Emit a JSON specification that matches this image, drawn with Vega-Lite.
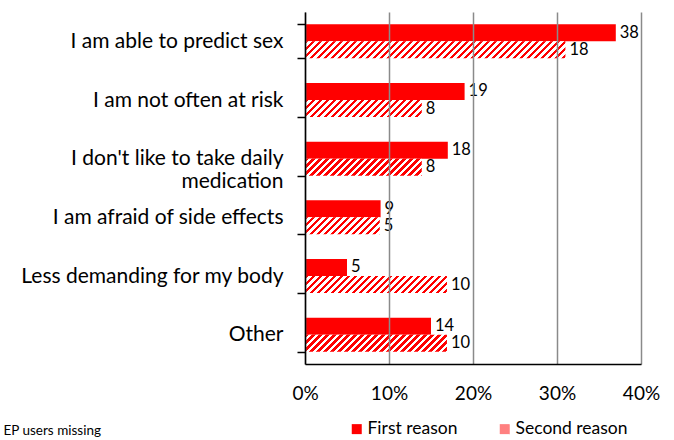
{
  "$schema": "https://vega.github.io/schema/vega-lite/v6.json",
  "autosize": "none",
  "width": 336,
  "height": 352,
  "padding": {"left": 305, "top": 12, "right": 33, "bottom": 76},
  "background": "white",
  "config": {"view": {"stroke": null}},
  "data": {"values": [
    {"cat": "I am able to predict sex", "reason": "First reason", "pct": 37, "n": 38},
    {"cat": "I am able to predict sex", "reason": "Second reason", "pct": 31, "n": 18},
    {"cat": "I am not often at risk", "reason": "First reason", "pct": 19, "n": 19},
    {"cat": "I am not often at risk", "reason": "Second reason", "pct": 13.9, "n": 8},
    {"cat": "I don't like to take daily|medication", "reason": "First reason", "pct": 17, "n": 18},
    {"cat": "I don't like to take daily|medication", "reason": "Second reason", "pct": 13.9, "n": 8},
    {"cat": "I am afraid of side effects", "reason": "First reason", "pct": 9, "n": 9},
    {"cat": "I am afraid of side effects", "reason": "Second reason", "pct": 8.9, "n": 5},
    {"cat": "Less demanding for my body", "reason": "First reason", "pct": 5, "n": 5},
    {"cat": "Less demanding for my body", "reason": "Second reason", "pct": 16.9, "n": 10},
    {"cat": "Other", "reason": "First reason", "pct": 15, "n": 14},
    {"cat": "Other", "reason": "Second reason", "pct": 16.9, "n": 10}
  ]},
  "encoding": {
    "y": {"field": "cat", "type": "nominal", "sort": null,
      "scale": {"paddingInner": 0.42, "paddingOuter": 0.21},
      "axis": {"title": null, "tickBand": "extent", "ticks": true, "tickSize": 8, "tickColor": "#000", "tickWidth": 1.5,
        "domainColor": "#000", "domainWidth": 1.5, "labelFont": "Lato", "labelFontSize": 21, "labelColor": "#000",
        "labelPadding": 14, "labelLimit": 0, "labelLineHeight": 23, "labelExpr": "split(datum.label, '|')", "grid": false, "zindex": 2}},
    "yOffset": {"field": "reason", "type": "nominal"},
    "x": {"field": "pct", "type": "quantitative",
      "scale": {"domain": [0, 40], "nice": false},
      "axis": {"values": [0, 10, 20, 30, 40], "labelExpr": "datum.value + '%'", "grid": true, "gridColor": "#8a8a8a", "gridWidth": 1.5,
        "ticks": false, "tickSize": 0, "domainColor": "#000", "domainWidth": 1.5, "labelFont": "Lato", "labelFontSize": 19,
        "labelColor": "#000", "labelPadding": 20, "labelFlush": false, "zindex": 1,
        "title": "EP users missing", "titleFont": "Lato", "titleFontSize": 13.5, "titleFontWeight": "normal", "titleColor": "#000",
        "titleX": -302, "titleY": 66, "titleAlign": "left", "titleAnchor": "start", "titleBaseline": "middle"}}
  },
  "layer": [
    {
      "mark": {"type": "bar"},
      "encoding": {
        "fill": {"field": "reason", "type": "nominal",
          "scale": {"domain": ["First reason", "Second reason"], "range": ["#ff0000", "#ff8080"]},
          "legend": {"orient": "none", "legendX": 43, "legendY": 408, "direction": "horizontal", "title": null,
            "symbolType": "square", "symbolSize": 100, "symbolStrokeWidth": 0, "labelFont": "Lato", "labelFontSize": 17.5,
            "labelColor": "#000", "columnPadding": 38, "labelOffset": 2, "padding": 0},
          "condition": [
            {"test": "datum.reason === 'Second reason' && datum.pct === 31", "value": {"gradient": "linear", "x1": 0, "y1": 0, "x2": 1.33837, "y2": 0.087441, "stops": [
{"offset":0,"color":"#f00"},
{"offset":0.01,"color":"#f00"},{"offset":0.01,"color":"#fff"},
{"offset":0.02,"color":"#fff"},{"offset":0.02,"color":"#f00"},
{"offset":0.03,"color":"#f00"},{"offset":0.03,"color":"#fff"},
{"offset":0.04,"color":"#fff"},{"offset":0.04,"color":"#f00"},
{"offset":0.05,"color":"#f00"},{"offset":0.05,"color":"#fff"},
{"offset":0.06,"color":"#fff"},{"offset":0.06,"color":"#f00"},
{"offset":0.07,"color":"#f00"},{"offset":0.07,"color":"#fff"},
{"offset":0.08,"color":"#fff"},{"offset":0.08,"color":"#f00"},
{"offset":0.09,"color":"#f00"},{"offset":0.09,"color":"#fff"},
{"offset":0.1,"color":"#fff"},{"offset":0.1,"color":"#f00"},
{"offset":0.11,"color":"#f00"},{"offset":0.11,"color":"#fff"},
{"offset":0.12,"color":"#fff"},{"offset":0.12,"color":"#f00"},
{"offset":0.13,"color":"#f00"},{"offset":0.13,"color":"#fff"},
{"offset":0.14,"color":"#fff"},{"offset":0.14,"color":"#f00"},
{"offset":0.15,"color":"#f00"},{"offset":0.15,"color":"#fff"},
{"offset":0.16,"color":"#fff"},{"offset":0.16,"color":"#f00"},
{"offset":0.17,"color":"#f00"},{"offset":0.17,"color":"#fff"},
{"offset":0.18,"color":"#fff"},{"offset":0.18,"color":"#f00"},
{"offset":0.19,"color":"#f00"},{"offset":0.19,"color":"#fff"},
{"offset":0.2,"color":"#fff"},{"offset":0.2,"color":"#f00"},
{"offset":0.21,"color":"#f00"},{"offset":0.21,"color":"#fff"},
{"offset":0.22,"color":"#fff"},{"offset":0.22,"color":"#f00"},
{"offset":0.23,"color":"#f00"},{"offset":0.23,"color":"#fff"},
{"offset":0.24,"color":"#fff"},{"offset":0.24,"color":"#f00"},
{"offset":0.25,"color":"#f00"},{"offset":0.25,"color":"#fff"},
{"offset":0.26,"color":"#fff"},{"offset":0.26,"color":"#f00"},
{"offset":0.27,"color":"#f00"},{"offset":0.27,"color":"#fff"},
{"offset":0.28,"color":"#fff"},{"offset":0.28,"color":"#f00"},
{"offset":0.29,"color":"#f00"},{"offset":0.29,"color":"#fff"},
{"offset":0.3,"color":"#fff"},{"offset":0.3,"color":"#f00"},
{"offset":0.31,"color":"#f00"},{"offset":0.31,"color":"#fff"},
{"offset":0.32,"color":"#fff"},{"offset":0.32,"color":"#f00"},
{"offset":0.33,"color":"#f00"},{"offset":0.33,"color":"#fff"},
{"offset":0.34,"color":"#fff"},{"offset":0.34,"color":"#f00"},
{"offset":0.35,"color":"#f00"},{"offset":0.35,"color":"#fff"},
{"offset":0.36,"color":"#fff"},{"offset":0.36,"color":"#f00"},
{"offset":0.37,"color":"#f00"},{"offset":0.37,"color":"#fff"},
{"offset":0.38,"color":"#fff"},{"offset":0.38,"color":"#f00"},
{"offset":0.39,"color":"#f00"},{"offset":0.39,"color":"#fff"},
{"offset":0.4,"color":"#fff"},{"offset":0.4,"color":"#f00"},
{"offset":0.41,"color":"#f00"},{"offset":0.41,"color":"#fff"},
{"offset":0.42,"color":"#fff"},{"offset":0.42,"color":"#f00"},
{"offset":0.43,"color":"#f00"},{"offset":0.43,"color":"#fff"},
{"offset":0.44,"color":"#fff"},{"offset":0.44,"color":"#f00"},
{"offset":0.45,"color":"#f00"},{"offset":0.45,"color":"#fff"},
{"offset":0.46,"color":"#fff"},{"offset":0.46,"color":"#f00"},
{"offset":0.47,"color":"#f00"},{"offset":0.47,"color":"#fff"},
{"offset":0.48,"color":"#fff"},{"offset":0.48,"color":"#f00"},
{"offset":0.49,"color":"#f00"},{"offset":0.49,"color":"#fff"},
{"offset":0.5,"color":"#fff"},{"offset":0.5,"color":"#f00"},
{"offset":0.51,"color":"#f00"},{"offset":0.51,"color":"#fff"},
{"offset":0.52,"color":"#fff"},{"offset":0.52,"color":"#f00"},
{"offset":0.53,"color":"#f00"},{"offset":0.53,"color":"#fff"},
{"offset":0.54,"color":"#fff"},{"offset":0.54,"color":"#f00"},
{"offset":0.55,"color":"#f00"},{"offset":0.55,"color":"#fff"},
{"offset":0.56,"color":"#fff"},{"offset":0.56,"color":"#f00"},
{"offset":0.57,"color":"#f00"},{"offset":0.57,"color":"#fff"},
{"offset":0.58,"color":"#fff"},{"offset":0.58,"color":"#f00"},
{"offset":0.59,"color":"#f00"},{"offset":0.59,"color":"#fff"},
{"offset":0.6,"color":"#fff"},{"offset":0.6,"color":"#f00"},
{"offset":0.61,"color":"#f00"},{"offset":0.61,"color":"#fff"},
{"offset":0.62,"color":"#fff"},{"offset":0.62,"color":"#f00"},
{"offset":0.63,"color":"#f00"},{"offset":0.63,"color":"#fff"},
{"offset":0.64,"color":"#fff"},{"offset":0.64,"color":"#f00"},
{"offset":0.65,"color":"#f00"},{"offset":0.65,"color":"#fff"},
{"offset":0.66,"color":"#fff"},{"offset":0.66,"color":"#f00"},
{"offset":0.67,"color":"#f00"},{"offset":0.67,"color":"#fff"},
{"offset":0.68,"color":"#fff"},{"offset":0.68,"color":"#f00"},
{"offset":0.69,"color":"#f00"},{"offset":0.69,"color":"#fff"},
{"offset":0.7,"color":"#fff"},{"offset":0.7,"color":"#f00"},
{"offset":0.71,"color":"#f00"},{"offset":0.71,"color":"#fff"},
{"offset":0.72,"color":"#fff"},{"offset":0.72,"color":"#f00"},
{"offset":0.73,"color":"#f00"},{"offset":0.73,"color":"#fff"},
{"offset":0.74,"color":"#fff"},{"offset":0.74,"color":"#f00"},
{"offset":0.75,"color":"#f00"},{"offset":0.75,"color":"#fff"},
{"offset":0.76,"color":"#fff"},{"offset":0.76,"color":"#f00"},
{"offset":0.77,"color":"#f00"},{"offset":0.77,"color":"#fff"},
{"offset":0.78,"color":"#fff"},{"offset":0.78,"color":"#f00"},
{"offset":0.79,"color":"#f00"},{"offset":0.79,"color":"#fff"},
{"offset":0.8,"color":"#fff"}]}},
            {"test": "datum.reason === 'Second reason' && datum.pct === 13.9", "value": {"gradient": "linear", "x1": 0, "y1": 0, "x2": 2.93529, "y2": 0.4277, "stops": [
{"offset":0,"color":"#f00"},
{"offset":0.01,"color":"#f00"},{"offset":0.01,"color":"#fff"},
{"offset":0.02,"color":"#fff"},{"offset":0.02,"color":"#f00"},
{"offset":0.03,"color":"#f00"},{"offset":0.03,"color":"#fff"},
{"offset":0.04,"color":"#fff"},{"offset":0.04,"color":"#f00"},
{"offset":0.05,"color":"#f00"},{"offset":0.05,"color":"#fff"},
{"offset":0.06,"color":"#fff"},{"offset":0.06,"color":"#f00"},
{"offset":0.07,"color":"#f00"},{"offset":0.07,"color":"#fff"},
{"offset":0.08,"color":"#fff"},{"offset":0.08,"color":"#f00"},
{"offset":0.09,"color":"#f00"},{"offset":0.09,"color":"#fff"},
{"offset":0.1,"color":"#fff"},{"offset":0.1,"color":"#f00"},
{"offset":0.11,"color":"#f00"},{"offset":0.11,"color":"#fff"},
{"offset":0.12,"color":"#fff"},{"offset":0.12,"color":"#f00"},
{"offset":0.13,"color":"#f00"},{"offset":0.13,"color":"#fff"},
{"offset":0.14,"color":"#fff"},{"offset":0.14,"color":"#f00"},
{"offset":0.15,"color":"#f00"},{"offset":0.15,"color":"#fff"},
{"offset":0.16,"color":"#fff"},{"offset":0.16,"color":"#f00"},
{"offset":0.17,"color":"#f00"},{"offset":0.17,"color":"#fff"},
{"offset":0.18,"color":"#fff"},{"offset":0.18,"color":"#f00"},
{"offset":0.19,"color":"#f00"},{"offset":0.19,"color":"#fff"},
{"offset":0.2,"color":"#fff"},{"offset":0.2,"color":"#f00"},
{"offset":0.21,"color":"#f00"},{"offset":0.21,"color":"#fff"},
{"offset":0.22,"color":"#fff"},{"offset":0.22,"color":"#f00"},
{"offset":0.23,"color":"#f00"},{"offset":0.23,"color":"#fff"},
{"offset":0.24,"color":"#fff"},{"offset":0.24,"color":"#f00"},
{"offset":0.25,"color":"#f00"},{"offset":0.25,"color":"#fff"},
{"offset":0.26,"color":"#fff"},{"offset":0.26,"color":"#f00"},
{"offset":0.27,"color":"#f00"},{"offset":0.27,"color":"#fff"},
{"offset":0.28,"color":"#fff"},{"offset":0.28,"color":"#f00"},
{"offset":0.29,"color":"#f00"},{"offset":0.29,"color":"#fff"},
{"offset":0.3,"color":"#fff"},{"offset":0.3,"color":"#f00"},
{"offset":0.31,"color":"#f00"},{"offset":0.31,"color":"#fff"},
{"offset":0.32,"color":"#fff"},{"offset":0.32,"color":"#f00"},
{"offset":0.33,"color":"#f00"},{"offset":0.33,"color":"#fff"},
{"offset":0.34,"color":"#fff"},{"offset":0.34,"color":"#f00"},
{"offset":0.35,"color":"#f00"},{"offset":0.35,"color":"#fff"},
{"offset":0.36,"color":"#fff"},{"offset":0.36,"color":"#f00"},
{"offset":0.37,"color":"#f00"},{"offset":0.37,"color":"#fff"},
{"offset":0.38,"color":"#fff"},{"offset":0.38,"color":"#f00"},
{"offset":0.39,"color":"#f00"}]}},
            {"test": "datum.reason === 'Second reason' && datum.pct === 8.9", "value": {"gradient": "linear", "x1": 0, "y1": 0, "x2": 4.45113, "y2": 1.01294, "stops": [
{"offset":0,"color":"#f00"},
{"offset":0.01,"color":"#f00"},{"offset":0.01,"color":"#fff"},
{"offset":0.02,"color":"#fff"},{"offset":0.02,"color":"#f00"},
{"offset":0.03,"color":"#f00"},{"offset":0.03,"color":"#fff"},
{"offset":0.04,"color":"#fff"},{"offset":0.04,"color":"#f00"},
{"offset":0.05,"color":"#f00"},{"offset":0.05,"color":"#fff"},
{"offset":0.06,"color":"#fff"},{"offset":0.06,"color":"#f00"},
{"offset":0.07,"color":"#f00"},{"offset":0.07,"color":"#fff"},
{"offset":0.08,"color":"#fff"},{"offset":0.08,"color":"#f00"},
{"offset":0.09,"color":"#f00"},{"offset":0.09,"color":"#fff"},
{"offset":0.1,"color":"#fff"},{"offset":0.1,"color":"#f00"},
{"offset":0.11,"color":"#f00"},{"offset":0.11,"color":"#fff"},
{"offset":0.12,"color":"#fff"},{"offset":0.12,"color":"#f00"},
{"offset":0.13,"color":"#f00"},{"offset":0.13,"color":"#fff"},
{"offset":0.14,"color":"#fff"},{"offset":0.14,"color":"#f00"},
{"offset":0.15,"color":"#f00"},{"offset":0.15,"color":"#fff"},
{"offset":0.16,"color":"#fff"},{"offset":0.16,"color":"#f00"},
{"offset":0.17,"color":"#f00"},{"offset":0.17,"color":"#fff"},
{"offset":0.18,"color":"#fff"},{"offset":0.18,"color":"#f00"},
{"offset":0.19,"color":"#f00"},{"offset":0.19,"color":"#fff"},
{"offset":0.2,"color":"#fff"},{"offset":0.2,"color":"#f00"},
{"offset":0.21,"color":"#f00"},{"offset":0.21,"color":"#fff"},
{"offset":0.22,"color":"#fff"},{"offset":0.22,"color":"#f00"},
{"offset":0.23,"color":"#f00"},{"offset":0.23,"color":"#fff"},
{"offset":0.24,"color":"#fff"},{"offset":0.24,"color":"#f00"},
{"offset":0.25,"color":"#f00"},{"offset":0.25,"color":"#fff"},
{"offset":0.26,"color":"#fff"},{"offset":0.26,"color":"#f00"},
{"offset":0.27,"color":"#f00"}]}},
            {"test": "datum.reason === 'Second reason' && datum.pct === 16.9", "value": {"gradient": "linear", "x1": 0, "y1": 0, "x2": 2.43058, "y2": 0.29129, "stops": [
{"offset":0,"color":"#f00"},
{"offset":0.01,"color":"#f00"},{"offset":0.01,"color":"#fff"},
{"offset":0.02,"color":"#fff"},{"offset":0.02,"color":"#f00"},
{"offset":0.03,"color":"#f00"},{"offset":0.03,"color":"#fff"},
{"offset":0.04,"color":"#fff"},{"offset":0.04,"color":"#f00"},
{"offset":0.05,"color":"#f00"},{"offset":0.05,"color":"#fff"},
{"offset":0.06,"color":"#fff"},{"offset":0.06,"color":"#f00"},
{"offset":0.07,"color":"#f00"},{"offset":0.07,"color":"#fff"},
{"offset":0.08,"color":"#fff"},{"offset":0.08,"color":"#f00"},
{"offset":0.09,"color":"#f00"},{"offset":0.09,"color":"#fff"},
{"offset":0.1,"color":"#fff"},{"offset":0.1,"color":"#f00"},
{"offset":0.11,"color":"#f00"},{"offset":0.11,"color":"#fff"},
{"offset":0.12,"color":"#fff"},{"offset":0.12,"color":"#f00"},
{"offset":0.13,"color":"#f00"},{"offset":0.13,"color":"#fff"},
{"offset":0.14,"color":"#fff"},{"offset":0.14,"color":"#f00"},
{"offset":0.15,"color":"#f00"},{"offset":0.15,"color":"#fff"},
{"offset":0.16,"color":"#fff"},{"offset":0.16,"color":"#f00"},
{"offset":0.17,"color":"#f00"},{"offset":0.17,"color":"#fff"},
{"offset":0.18,"color":"#fff"},{"offset":0.18,"color":"#f00"},
{"offset":0.19,"color":"#f00"},{"offset":0.19,"color":"#fff"},
{"offset":0.2,"color":"#fff"},{"offset":0.2,"color":"#f00"},
{"offset":0.21,"color":"#f00"},{"offset":0.21,"color":"#fff"},
{"offset":0.22,"color":"#fff"},{"offset":0.22,"color":"#f00"},
{"offset":0.23,"color":"#f00"},{"offset":0.23,"color":"#fff"},
{"offset":0.24,"color":"#fff"},{"offset":0.24,"color":"#f00"},
{"offset":0.25,"color":"#f00"},{"offset":0.25,"color":"#fff"},
{"offset":0.26,"color":"#fff"},{"offset":0.26,"color":"#f00"},
{"offset":0.27,"color":"#f00"},{"offset":0.27,"color":"#fff"},
{"offset":0.28,"color":"#fff"},{"offset":0.28,"color":"#f00"},
{"offset":0.29,"color":"#f00"},{"offset":0.29,"color":"#fff"},
{"offset":0.3,"color":"#fff"},{"offset":0.3,"color":"#f00"},
{"offset":0.31,"color":"#f00"},{"offset":0.31,"color":"#fff"},
{"offset":0.32,"color":"#fff"},{"offset":0.32,"color":"#f00"},
{"offset":0.33,"color":"#f00"},{"offset":0.33,"color":"#fff"},
{"offset":0.34,"color":"#fff"},{"offset":0.34,"color":"#f00"},
{"offset":0.35,"color":"#f00"},{"offset":0.35,"color":"#fff"},
{"offset":0.36,"color":"#fff"},{"offset":0.36,"color":"#f00"},
{"offset":0.37,"color":"#f00"},{"offset":0.37,"color":"#fff"},
{"offset":0.38,"color":"#fff"},{"offset":0.38,"color":"#f00"},
{"offset":0.39,"color":"#f00"},{"offset":0.39,"color":"#fff"},
{"offset":0.4,"color":"#fff"},{"offset":0.4,"color":"#f00"},
{"offset":0.41,"color":"#f00"},{"offset":0.41,"color":"#fff"},
{"offset":0.42,"color":"#fff"},{"offset":0.42,"color":"#f00"},
{"offset":0.43,"color":"#f00"},{"offset":0.43,"color":"#fff"},
{"offset":0.44,"color":"#fff"},{"offset":0.44,"color":"#f00"},
{"offset":0.45,"color":"#f00"},{"offset":0.45,"color":"#fff"},
{"offset":0.46,"color":"#fff"}]}}
          ]
        }
      }
    },
    {
      "mark": {"type": "text", "align": "left", "baseline": "middle", "dx": 4, "font": "Lato", "fontSize": 16.5, "color": "#000"},
      "encoding": {"text": {"field": "n", "type": "quantitative"}}
    }
  ]
}
